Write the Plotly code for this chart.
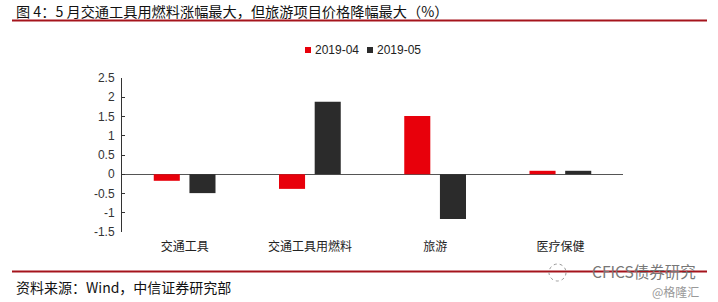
import plotly.graph_objects as go

categories = ["交通工具", "交通工具用燃料", "旅游", "医疗保健"]
series_names = ["2019-04", "2019-05"]
values_apr = [-0.17, -0.38, 1.51, 0.09]
values_may = [-0.49, 1.88, -1.16, 0.09]
colors = ["#e8000b", "#2b2b2b"]
ytick_vals = [-1.5, -1, -0.5, 0, 0.5, 1, 1.5, 2, 2.5]
ytick_text = ["-1.5", "-1", "-0.5", "0", "0.5", "1", "1.5", "2", "2.5"]

title_text = "图 4：5 月交通工具用燃料涨幅最大，但旅游项目价格降幅最大（%）"
source_text = "资料来源：Wind，中信证券研究部"

CJK = "Noto Sans CJK SC"
LAT = "Liberation Sans, Arial"

fig = go.Figure()
for name, vals, c in zip(series_names, [values_apr, values_may], colors):
    fig.add_trace(go.Bar(x=categories, y=vals, name=name, marker_color=c,
                         marker_line_width=0, showlegend=False))

W, H = 718, 302
l, r, t, b = 122, 95, 78, 70
PW, PH = W - l - r, H - t - b

fig.update_layout(
    width=W, height=H,
    margin=dict(l=l, r=r, t=t, b=b, pad=0),
    paper_bgcolor="white", plot_bgcolor="white",
    barmode="group", bargap=0.43, bargroupgap=0.27,
    xaxis=dict(showline=False, showgrid=False, zeroline=False, ticks="",
               tickfont=dict(family=CJK, size=12, color="#222"),
               ticklabelstandoff=6),
    yaxis=dict(range=[-1.5, 2.5], tickvals=ytick_vals, ticktext=ytick_text,
               showgrid=False, showline=True, linecolor="#333", linewidth=1,
               zeroline=True, zerolinecolor="#555", zerolinewidth=1,
               ticks="inside", ticklen=3, tickcolor="#333",
               tickfont=dict(family=LAT, size=12, color="#333"),
               ticklabelstandoff=4),
    showlegend=False,
)

def px(x):
    return (x - l) / PW

def py(y):
    return (H - b - y) / PH

# Title
fig.add_annotation(text=title_text, xref="paper", yref="paper",
                   x=px(14), y=py(11), xanchor="left", yanchor="middle",
                   showarrow=False, font=dict(family=CJK, size=14.2, color="#111"))
# Lines
for yy in (20.5, 271.5):
    fig.add_shape(type="line", xref="paper", yref="paper",
                  x0=px(12), x1=px(707), y0=py(yy), y1=py(yy),
                  line=dict(color="#a5141c", width=2))

# Legend
leg_x = [305, 367]
for name, c, lx in zip(series_names, colors, leg_x):
    fig.add_shape(type="rect", xref="paper", yref="paper",
                  x0=px(lx), x1=px(lx + 6), y0=py(53), y1=py(47),
                  fillcolor=c, line_width=0)
    fig.add_annotation(text=name, xref="paper", yref="paper",
                       x=px(lx + 8), y=py(50), xanchor="left", yanchor="middle",
                       showarrow=False, font=dict(family=LAT, size=12, color="#222"))

# Source
fig.add_annotation(text=source_text, xref="paper", yref="paper",
                   x=px(14), y=py(287), xanchor="left", yanchor="middle",
                   showarrow=False, font=dict(family=CJK, size=14, color="#111"))

# Watermarks
fig.add_annotation(text="CFICS债券研究", xref="paper", yref="paper",
                   x=px(698), y=py(271), xanchor="right", yanchor="middle",
                   showarrow=False, font=dict(family=CJK, size=15.5, color="#777"))
fig.add_annotation(text="@格隆汇", xref="paper", yref="paper",
                   x=px(701), y=py(291), xanchor="right", yanchor="middle",
                   showarrow=False, font=dict(family=CJK, size=12, color="#999"))
fig.add_shape(type="circle", xref="paper", yref="paper",
              x0=px(549), x1=px(566), y0=py(281), y1=py(264),
              line=dict(color="#999", width=1, dash="dot"))

fig.write_html("out.html")
